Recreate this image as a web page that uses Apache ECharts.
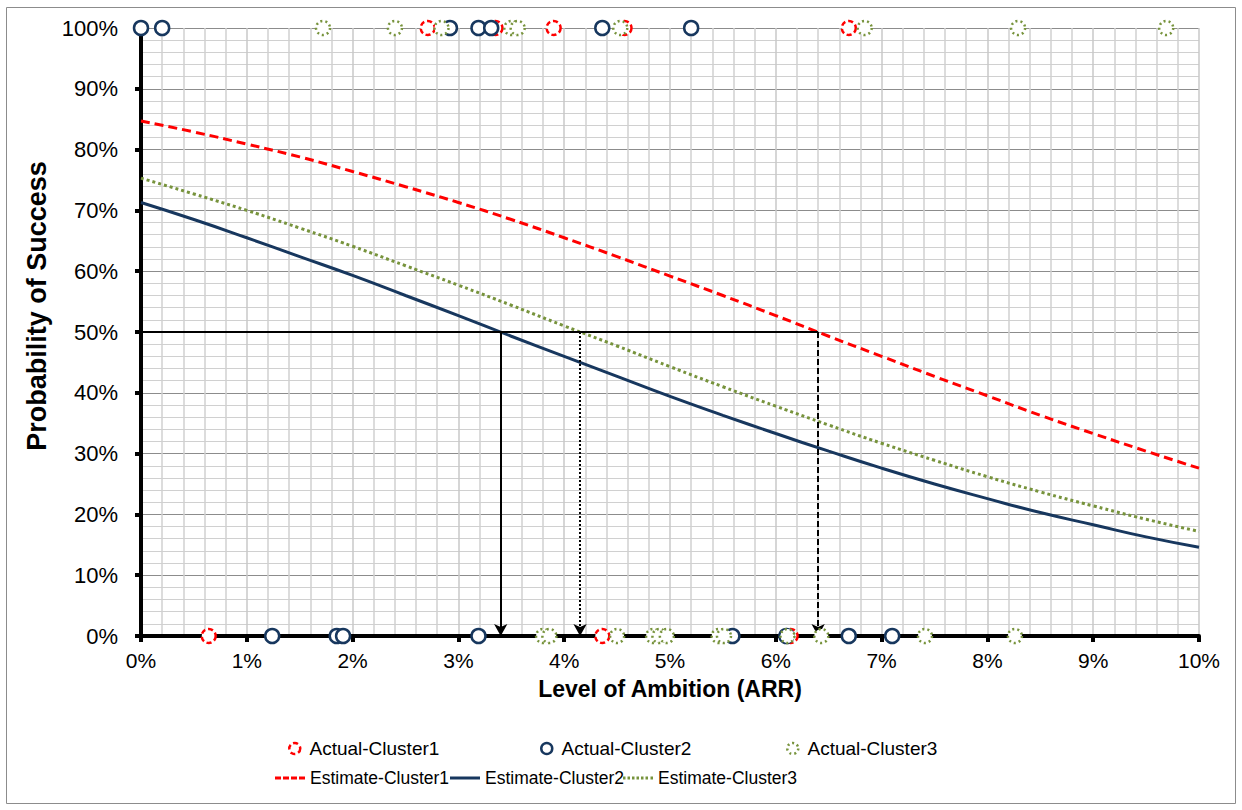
<!DOCTYPE html>
<html>
<head>
<meta charset="utf-8">
<script src="https://cdn.jsdelivr.net/npm/echarts@6/dist/echarts.min.js"></script>
<style>
  html, body { margin: 0; padding: 0; background: #ffffff; }
  #chart { width: 1242px; height: 810px; }
</style>
</head>
<body>
<div id="chart"></div>
<script>
// ---- data ----
const xTicks = [0, 1, 2, 3, 4, 5, 6, 7, 8, 9, 10];
const curveX = [0, 0.5, 1, 1.5, 2, 2.5, 3, 3.5, 4, 4.5, 5, 5.5, 6, 6.5, 7, 7.5, 8, 8.5, 9, 9.5, 10];
const estimate1 = [84.7, 82.9, 80.9, 78.8, 76.4, 73.9, 71.3, 68.5, 65.5, 62.4, 59.2, 56.0, 52.7, 49.3, 46.0, 42.7, 39.5, 36.3, 33.3, 30.4, 27.6];
const estimate2 = [71.3, 68.5, 65.5, 62.4, 59.3, 56.0, 52.7, 49.3, 46.0, 42.7, 39.4, 36.3, 33.3, 30.4, 27.6, 25.0, 22.6, 20.3, 18.3, 16.3, 14.6];
const estimate3 = [75.3, 72.7, 70.0, 67.1, 64.1, 60.9, 57.7, 54.4, 51.0, 47.7, 44.3, 41.0, 37.8, 34.7, 31.7, 28.9, 26.2, 23.7, 21.4, 19.2, 17.2];

// actual outcomes: x positions of successes (100%) and failures (0%)
const actual1Success = [2.71, 3.35, 3.90, 4.57, 6.69];
const actual1Fail = [0.64, 4.36, 6.14];
const actual2Success = [0.00, 0.20, 2.92, 3.19, 3.31, 4.36, 5.20];
const actual2Fail = [1.24, 1.85, 1.91, 3.19, 5.59, 6.10, 6.69, 7.10];
const actual3Success = [1.72, 2.40, 2.84, 3.50, 3.56, 4.53, 6.84, 8.29, 9.69];
const actual3Fail = [3.80, 3.86, 4.50, 4.84, 4.90, 4.97, 5.46, 5.51, 6.11, 6.43, 7.41, 8.26];

// 50% threshold crossings (cluster2, cluster3, cluster1)
const thresholdLevel = 50;
const crossX = [3.4, 4.15, 6.4];

const names = ['Actual-Cluster1', 'Actual-Cluster2', 'Actual-Cluster3',
               'Estimate-Cluster1', 'Estimate-Cluster2', 'Estimate-Cluster3'];

// ---- build ----
const RED = '#FF0000', NAVY = '#17375E', GREEN = '#77933C';
const FONT = '"Liberation Sans", Arial, sans-serif';
const DASH1 = [5, 3], DASH3 = [2, 3];

function pts(succ, fail) {
  return succ.map(x => [x, 100]).concat(fail.map(x => [x, 0]));
}
function curve(vals) { return curveX.map((x, i) => [x, vals[i]]); }

function scatter(name, color, type, data) {
  return {
    name, type: 'scatter', data, symbol: 'circle', symbolSize: 14, z: 5,
    itemStyle: { color: '#ffffff', borderColor: color, borderWidth: 2.5, borderType: type, opacity: 1 },
    emphasis: { disabled: true }, animation: false
  };
}
function line(name, color, type, vals) {
  return {
    name, type: 'line', data: curve(vals), symbol: 'none', smooth: true, z: 3,
    lineStyle: { color, width: 3, type },
    itemStyle: { color },
    emphasis: { disabled: true }, animation: false
  };
}
function markerLegend(name, color, type, left) {
  return {
    data: [{ name, icon: 'circle',
      itemStyle: { color: '#ffffff', borderColor: color, borderWidth: 2.5, borderType: type } }],
    left, top: 734, itemWidth: 11, itemHeight: 11,
    formatter: n => ' ' + n,
    textStyle: { fontSize: 19, color: '#000', fontFamily: FONT }, selectedMode: false
  };
}
function lineLegend(name, icon, left) {
  return {
    data: [{ name, icon }], left, top: 764, itemWidth: 30, itemHeight: 3,
    textStyle: { fontSize: 17.5, color: '#000', fontFamily: FONT }, selectedMode: false
  };
}
const dashedIcon = 'path://M0,0h6v3h-6z M8,0h6v3h-6z M16,0h6v3h-6z M24,0h6v3h-6z';
const dottedIcon = 'path://M0,0h2.5v3h-2.5z M4.5,0h2.5v3h-2.5z M9,0h2.5v3h-2.5z M13.5,0h2.5v3h-2.5z M18,0h2.5v3h-2.5z M22.5,0h2.5v3h-2.5z M27.5,0h2.5v3h-2.5z';
const solidIcon = 'path://M0,0h30v3h-30z';

const chart = echarts.init(document.getElementById('chart'), null, { renderer: 'svg' });
chart.setOption({
  backgroundColor: '#ffffff',
  animation: false,
  textStyle: { fontFamily: FONT },
  graphic: [{
    type: 'rect', silent: true, z: -10,
    shape: { x: 6.5, y: 7.5, width: 1229, height: 796 },
    style: { fill: 'none', stroke: '#8c8c8c', lineWidth: 1 }
  }],
  grid: { left: 141, right: 43, top: 28, bottom: 174, containLabel: false },
  xAxis: {
    type: 'value', min: 0, max: 10, interval: 1,
    name: 'Level of Ambition (ARR)', nameLocation: 'middle', nameGap: 41,
    nameTextStyle: { fontSize: 23, fontWeight: 'bold', color: '#000', fontFamily: FONT },
    axisLine: { show: true, onZero: false, lineStyle: { color: '#000', width: 4 } },
    axisTick: { show: true, inside: false, length: 6, lineStyle: { color: '#000', width: 4 } },
    axisLabel: { formatter: '{value}%', fontSize: 21, color: '#000', margin: 14, fontFamily: FONT },
    splitLine: { show: true, lineStyle: { color: '#c8c8c8', width: 1.5 } },
    minorTick: { show: false, splitNumber: 5 },
    minorSplitLine: { show: true, lineStyle: { color: '#d0d0d0', width: 1.5 } }
  },
  yAxis: {
    type: 'value', min: 0, max: 100, interval: 10,
    name: 'Probability of Success', nameLocation: 'middle', nameGap: 89,
    nameTextStyle: { fontSize: 27, fontWeight: 'bold', color: '#000', fontFamily: FONT, padding: [0, 0, 0, 52] },
    axisLine: { show: true, onZero: false, lineStyle: { color: '#000', width: 4 } },
    axisTick: { show: true, inside: false, length: 6, lineStyle: { color: '#000', width: 4 } },
    axisLabel: { formatter: '{value}%', fontSize: 22, color: '#000', margin: 23, fontFamily: FONT },
    splitLine: { show: true, lineStyle: { color: '#8c8c8c', width: 1 } },
    minorTick: { show: false, splitNumber: 5 },
    minorSplitLine: { show: true, lineStyle: { color: '#d0d0d0', width: 1 } }
  },
  legend: [
    markerLegend(names[0], RED, DASH1, 283),
    markerLegend(names[1], NAVY, 'solid', 535),
    markerLegend(names[2], GREEN, DASH3, 781),
    lineLegend(names[3], dashedIcon, 270),
    lineLegend(names[4], solidIcon, 445),
    lineLegend(names[5], dottedIcon, 618)
  ],
  series: [
    line(names[3], RED, [9, 5], estimate1),
    line(names[4], NAVY, 'solid', estimate2),
    line(names[5], GREEN, [3, 3], estimate3),
    {
      name: 'threshold', type: 'line', z: 4, symbol: 'none',
      data: [[0, thresholdLevel], [crossX[2], thresholdLevel]],
      lineStyle: { color: '#000', width: 2 },
      emphasis: { disabled: true }, animation: false,
      markLine: {
        silent: true, animation: false, symbol: ['none', 'arrow'], symbolSize: [10, 12],
        label: { show: false },
        data: [
          [{ coord: [crossX[0], thresholdLevel], lineStyle: { color: '#000', width: 2, type: 'solid' } }, { coord: [crossX[0], 0] }],
          [{ coord: [crossX[1], thresholdLevel], lineStyle: { color: '#000', width: 2, type: [2, 2] } }, { coord: [crossX[1], 0] }],
          [{ coord: [crossX[2], thresholdLevel], lineStyle: { color: '#000', width: 2, type: [6, 3] } }, { coord: [crossX[2], 0] }]
        ]
      }
    },
    scatter(names[0], RED, DASH1, pts(actual1Success, actual1Fail)),
    scatter(names[1], NAVY, 'solid', pts(actual2Success, actual2Fail)),
    scatter(names[2], GREEN, DASH3, pts(actual3Success, actual3Fail))
  ]
});
</script>
</body>
</html>
